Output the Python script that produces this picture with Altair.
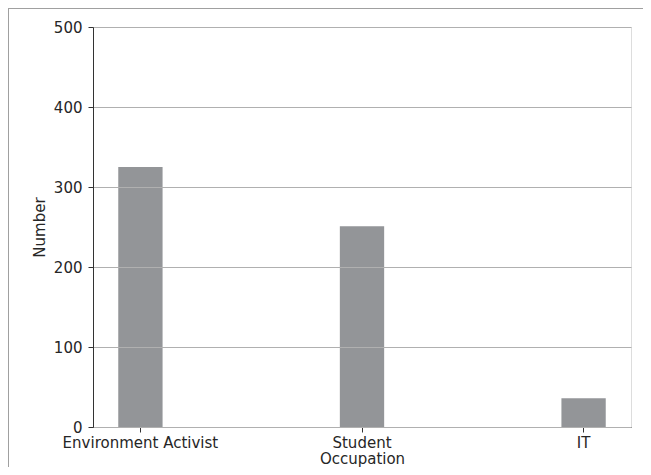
import altair as alt
import pandas as pd

occupations = ["Environment Activist", "Student", "IT"]
numbers = [325, 251, 36]

df = pd.DataFrame({"Occupation": occupations, "Number": numbers})

FONT = "DejaVu Sans"
TXT = "#262626"

bars = alt.Chart(df).mark_bar(color="#939598").encode(
    x=alt.X(
        "Occupation:N",
        sort=occupations,
        scale=alt.Scale(paddingInner=0.8, paddingOuter=0.114),
        axis=alt.Axis(
            title="Occupation",
            labelAngle=0,
            bandPosition=0.5,
            grid=False,
            domainColor="#333333",
            tickColor="#333333",
            tickSize=5,
            labelPadding=3,
            titlePadding=1,
            labelFontSize=15,
            titleFontSize=15,
            labelColor=TXT,
            titleColor=TXT,
            titleFontWeight="normal",
            labelFont=FONT,
            titleFont=FONT,
        ),
    ),
    y=alt.Y(
        "Number:Q",
        scale=alt.Scale(domain=[0, 500], nice=False),
        axis=alt.Axis(
            title="Number",
            values=[0, 100, 200, 300, 400, 500],
            grid=True,
            gridColor="#b0b0b0",
            gridWidth=1,
            zindex=1,
            domainColor="#333333",
            tickColor="#333333",
            tickSize=5,
            labelPadding=6,
            titlePadding=6,
            labelFontSize=15,
            titleFontSize=15,
            labelColor=TXT,
            titleColor=TXT,
            titleFontWeight="normal",
            labelFont=FONT,
            titleFont=FONT,
        ),
    ),
)

frame = alt.Chart(df).mark_rect(fill=None, stroke="#a0a0a0", strokeWidth=1).encode(
    x=alt.value(-84.5), x2=alt.value(700), y=alt.value(-18.5), y2=alt.value(700)
)

chart = (
    alt.layer(frame, bars)
    .properties(
        width=538,
        height=400,
        autosize=alt.AutoSizeParams(type="none"),
        padding={"left": 85, "top": 19, "right": 12, "bottom": 40},
    )
    .configure_view(stroke="#333333", strokeWidth=1)
    .configure(background="white")
)

chart.save("out.html", embed_options={"renderer": "svg", "actions": False})
